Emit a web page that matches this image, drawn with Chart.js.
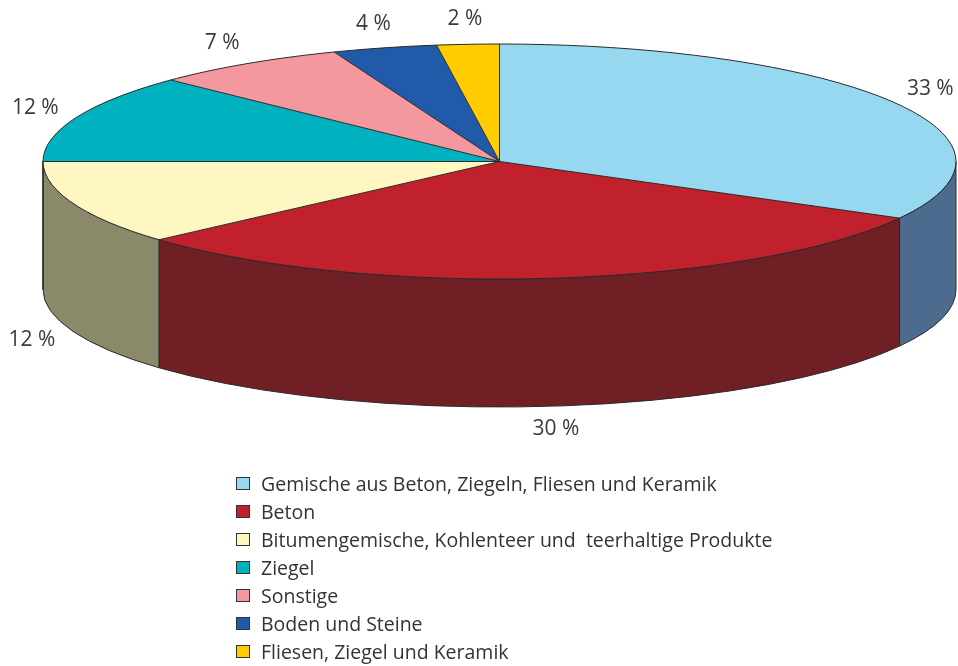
<!DOCTYPE html>
<html><head><meta charset="utf-8">
<script src="https://cdn.jsdelivr.net/npm/chart.js@4/dist/chart.umd.min.js"></script>
<style>
html,body{margin:0;padding:0;background:#fff;}
#wrap{position:relative;width:958px;height:666px;overflow:hidden;}
#c{position:absolute;left:0;top:0;}
#legend{position:absolute;left:236px;top:469px;font-family:"Open Sans",sans-serif;font-size:19.5px;color:#333;}
.row{height:28px;display:flex;align-items:center;white-space:pre;}
.sw{width:14px;height:13px;box-sizing:border-box;border:1px solid #333;margin-right:11px;flex:none;}
</style></head><body>
<div id="wrap"><canvas id="c" width="958" height="666"></canvas><div id="legend"></div></div>
<script>
// ---- data ----
const categories = [
  'Gemische aus Beton, Ziegeln, Fliesen und Keramik',
  'Beton',
  'Bitumengemische, Kohlenteer und  teerhaltige Produkte',
  'Ziegel',
  'Sonstige',
  'Boden und Steine',
  'Fliesen, Ziegel und Keramik'
];
const shares = [33.0, 30.4, 11.6, 12.2, 6.9, 3.7, 2.2];
const shareLabels = shares.map(v => Math.round(v) + ' %');

// ---- styles ----
const topColors  = ['#95d8ef', '#c0212d', '#fff7c2', '#00b2c0', '#f4989f', '#205aa8', '#ffcc00'];
const sideColors = ['#4d6a8f', '#701f24', '#8a8a6a', '#00737c', '#9e6366', '#153b6e', '#a68500'];
const DEPTH_FRAC = 0.3526;
const EDGE = '#2a2a2a';

function geom(chart) {
  const a = chart.chartArea;
  const h = a.bottom - a.top;
  const depth = h * DEPTH_FRAC;
  const rx = (a.right - a.left) / 2;
  const ry = (h - depth) / 2;
  return { cx: (a.left + a.right) / 2, cy: a.top + ry, rx, ry, depth };
}

const pie3d = {
  id: 'pie3d',
  beforeDatasetsDraw(chart) {
    const ctx = chart.ctx, g = geom(chart);
    const arcs = chart.getDatasetMeta(0).data;
    ctx.save();
    ctx.lineWidth = 1;
    ctx.strokeStyle = EDGE;
    arcs.forEach((arc, i) => {
      const s = arc.startAngle, e = arc.endAngle;
      const a1 = Math.max(s, 0), a2 = Math.min(e, Math.PI);
      if (a2 <= a1) return;
      ctx.beginPath();
      ctx.ellipse(g.cx, g.cy, g.rx, g.ry, 0, a1, a2, false);
      ctx.lineTo(g.cx + g.rx * Math.cos(a2), g.cy + g.ry * Math.sin(a2) + g.depth);
      ctx.ellipse(g.cx, g.cy + g.depth, g.rx, g.ry, 0, a2, a1, true);
      ctx.closePath();
      ctx.fillStyle = sideColors[i];
      ctx.fill();
      ctx.stroke();
    });
    ctx.restore();
    // squash the library's pie into the top ellipse
    const a0 = arcs[0];
    const r = a0.outerRadius;
    ctx.save();
    ctx.translate(g.cx, g.cy);
    ctx.scale(g.rx / r, g.ry / r);
    ctx.translate(-a0.x, -a0.y);
  },
  afterDatasetsDraw(chart) {
    const ctx = chart.ctx;
    ctx.restore();
    const g = geom(chart);
    const arcs = chart.getDatasetMeta(0).data;
    ctx.save();
    ctx.lineWidth = 1;
    ctx.strokeStyle = EDGE;
    ctx.beginPath();
    ctx.ellipse(g.cx, g.cy, g.rx, g.ry, 0, 0, Math.PI * 2);
    ctx.stroke();
    arcs.forEach(arc => {
      const s = arc.startAngle;
      ctx.beginPath();
      ctx.moveTo(g.cx, g.cy);
      ctx.lineTo(g.cx + g.rx * Math.cos(s), g.cy + g.ry * Math.sin(s));
      ctx.stroke();
    });
    // percentage labels
    ctx.fillStyle = '#3a3a3a';
    ctx.font = '21px "Open Sans", sans-serif';
    ctx.textAlign = 'center';
    ctx.textBaseline = 'middle';
    arcs.forEach((arc, i) => {
      const m = (arc.startAngle + arc.endAngle) / 2;
      const c = Math.cos(m), sn = Math.sin(m);
      const x = g.cx + (g.rx + 44) * c;
      const y = sn > 0 ? g.cy + (g.ry + 23) * sn + g.depth : g.cy + (g.ry + 25) * sn;
      ctx.fillText(shareLabels[i], x, y);
    });
    ctx.restore();
  }
};

new Chart(document.getElementById('c'), {
  type: 'pie',
  data: {
    labels: categories,
    datasets: [{
      data: shares,
      backgroundColor: topColors,
      borderWidth: 0,
      clip: false
    }]
  },
  options: {
    responsive: false,
    animation: false,
    events: [],
    layout: { padding: { left: 43, right: 2, top: 44, bottom: 259 } },
    plugins: { legend: { display: false }, tooltip: { enabled: false } }
  },
  plugins: [pie3d]
});

// legend
const lg = document.getElementById('legend');
categories.forEach((name, i) => {
  const row = document.createElement('div');
  row.className = 'row';
  const sw = document.createElement('span');
  sw.className = 'sw';
  sw.style.background = topColors[i];
  const t = document.createElement('span');
  t.textContent = name;
  row.appendChild(sw);
  row.appendChild(t);
  lg.appendChild(row);
});
</script>
</body></html>
